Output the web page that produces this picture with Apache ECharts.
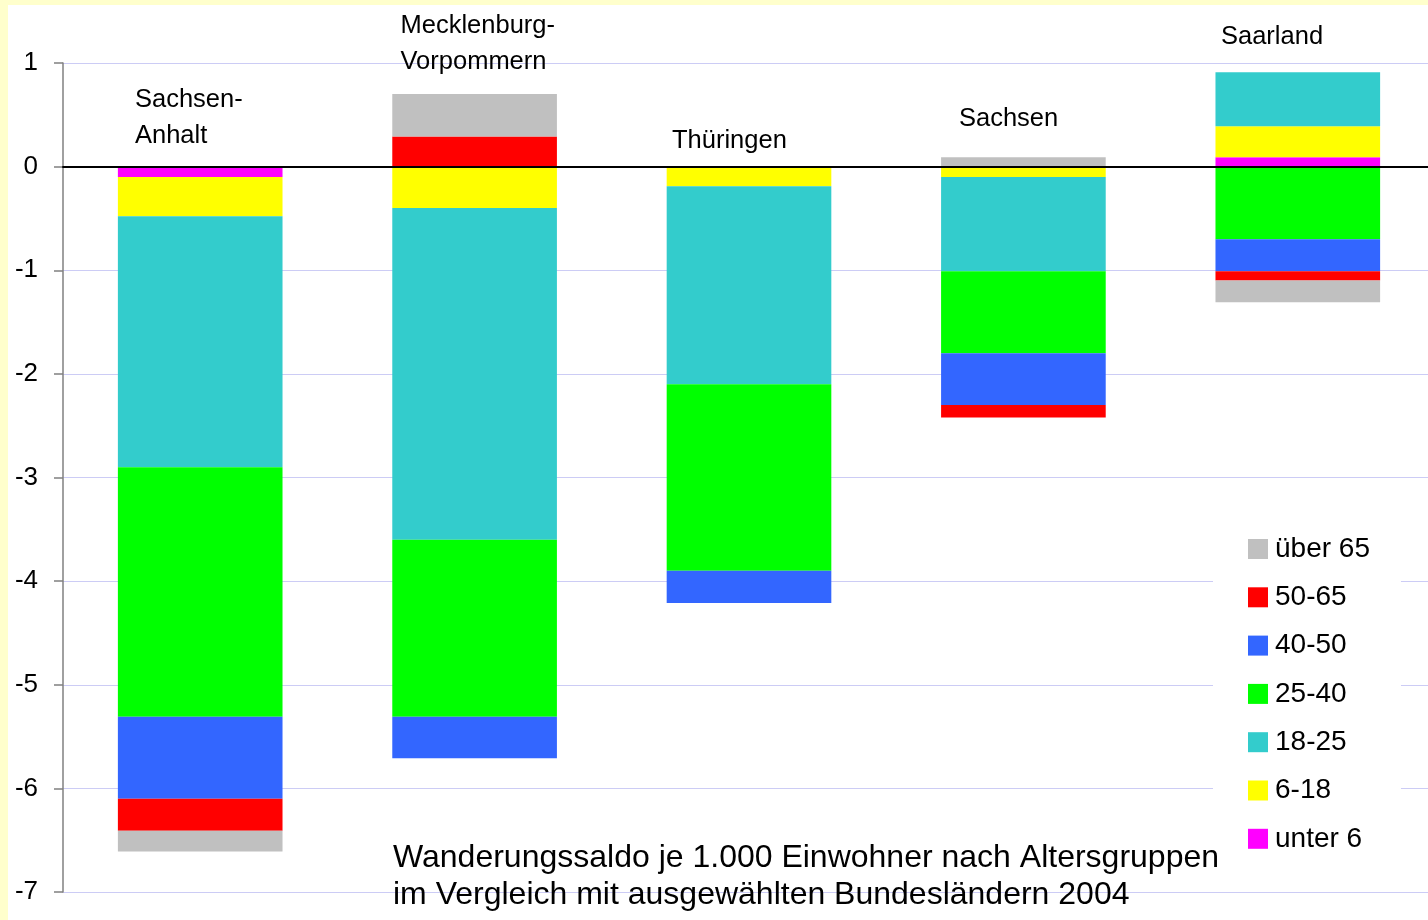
<!DOCTYPE html>
<html>
<head>
<meta charset="utf-8">
<script src="https://cdn.jsdelivr.net/npm/echarts@6/dist/echarts.min.js"></script>
<style>
html,body{margin:0;padding:0;background:#ffffff;overflow:hidden;}
#c{width:1436px;height:920px;}
</style>
</head>
<body>
<div id="c"></div>
<script>
const categories = ['Sachsen-Anhalt', 'Mecklenburg-Vorpommern', 'Thüringen', 'Sachsen', 'Saarland'];
const unter6  = [-0.10,  0.00,  0.00,  0.00,  0.09];
const a6_18   = [-0.38, -0.40, -0.19, -0.10,  0.30];
const a18_25  = [-2.42, -3.20, -1.91, -0.91,  0.52];
const a25_40  = [-2.41, -1.71, -1.80, -0.79, -0.70];
const a40_50  = [-0.79, -0.40, -0.31, -0.50, -0.31];
const a50_65  = [-0.31,  0.29,  0.00, -0.12, -0.09];
const ueber65 = [-0.20,  0.41,  0.00,  0.09, -0.21];
const yTicks = [1, 0, -1, -2, -3, -4, -5, -6, -7];
const legendOrder = ['über 65', '50-65', '40-50', '25-40', '18-25', '6-18', 'unter 6'];
const titleLines = ['Wanderungssaldo je 1.000 Einwohner nach Altersgruppen', 'im Vergleich mit ausgewählten Bundesländern 2004'];

const FONT = '"Liberation Sans", Arial, sans-serif';
const seriesDefs = [
  ['unter 6', unter6, '#FF00FF'],
  ['6-18', a6_18, '#FFFF00'],
  ['18-25', a18_25, '#33CCCC'],
  ['25-40', a25_40, '#00FF00'],
  ['40-50', a40_50, '#3366FF'],
  ['50-65', a50_65, '#FF0000'],
  ['über 65', ueber65, '#C0C0C0']
];

const chart = echarts.init(document.getElementById('c'), null, {renderer: 'canvas'});
const catLabel = (text, x, y) => ({
  type: 'text', left: x, top: y, z: 20,
  style: {text: text, font: '25.5px ' + FONT, fill: '#000', lineHeight: 36, verticalAlign: 'top'}
});
chart.setOption({
  backgroundColor: '#ffffff',
  animation: false,
  grid: {left: 63, top: 63, width: 1372, height: 829, containLabel: false},
  xAxis: {
    type: 'category', data: categories, z: 10,
    axisLine: {show: true, onZero: true, lineStyle: {color: '#000', width: 2}},
    axisTick: {show: false}, axisLabel: {show: false}, splitLine: {show: false}
  },
  yAxis: {
    type: 'value', min: -7, max: 1, interval: 1,
    axisLine: {show: true, lineStyle: {color: '#808080', width: 1.5}},
    axisTick: {show: true, inside: false, length: 9, lineStyle: {color: '#808080', width: 1.5}},
    axisLabel: {fontSize: 26, fontFamily: FONT, color: '#000', margin: 25,
      formatter: v => yTicks.indexOf(v) >= 0 ? String(v) : ''},
    splitLine: {show: true, lineStyle: {color: '#CCCCF5', width: 1}}
  },
  legend: {
    data: legendOrder, orient: 'vertical', left: 1213, top: 522,
    padding: [13, 31, 19, 35], backgroundColor: '#ffffff',
    icon: 'rect', itemWidth: 20, itemHeight: 20, itemGap: 20.3,
    selectedMode: false,
    textStyle: {fontSize: 28, fontFamily: FONT, color: '#000', lineHeight: 26, padding: [0, 0, 0, 2]}
  },
  graphic: [
    {type: 'rect', shape: {x: 0, y: 0, width: 1436, height: 5}, style: {fill: '#FFFFCC'}, z: 30},
    {type: 'rect', shape: {x: 0, y: 0, width: 8, height: 920}, style: {fill: '#FFFFCC'}, z: 30},
    catLabel('Sachsen-\nAnhalt', 135, 81.5),
    catLabel('Mecklenburg-\nVorpommern', 400.5, 8),
    catLabel('Thüringen', 672, 123),
    catLabel('Sachsen', 959, 101),
    catLabel('Saarland', 1221, 19),
    {type: 'text', left: 393, top: 840, z: 20,
     style: {text: titleLines.join('\n'), font: '32px ' + FONT, fill: '#000', lineHeight: 37, verticalAlign: 'top'}}
  ],
  series: seriesDefs.map(([name, data, color]) => ({
    name: name, type: 'bar', stack: 'total', data: data,
    barCategoryGap: '40%',
    itemStyle: {color: color},
    emphasis: {disabled: true}
  }))
});
</script>
</body>
</html>
